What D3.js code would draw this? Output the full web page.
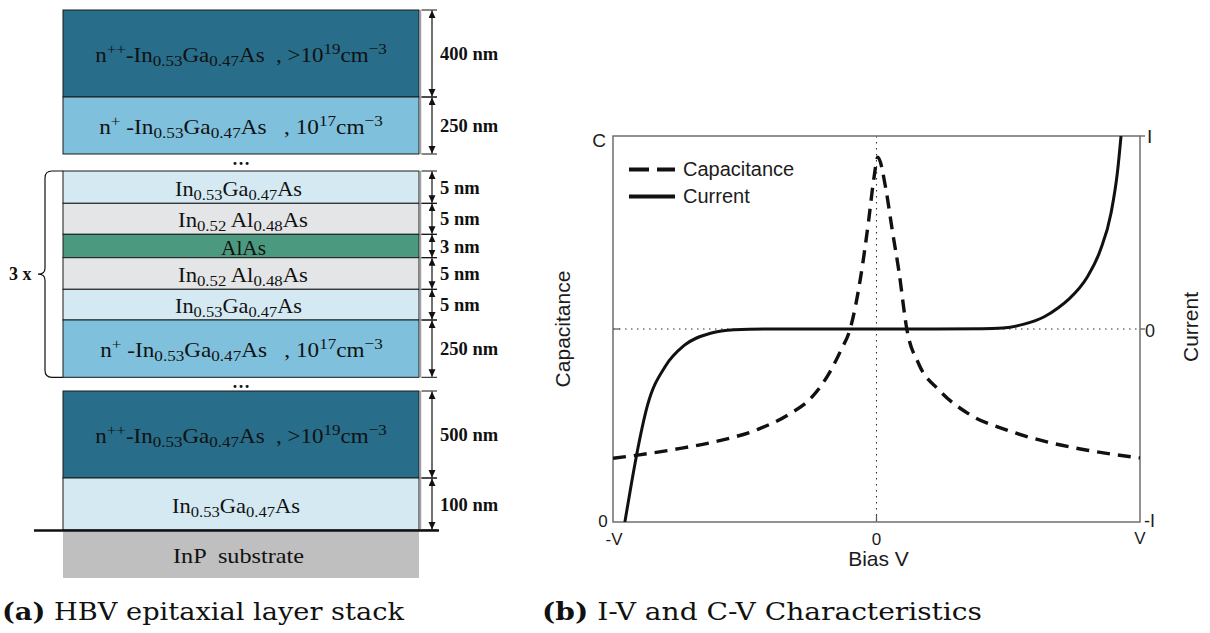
<!DOCTYPE html>
<html><head><meta charset="utf-8">
<script src="https://cdn.jsdelivr.net/npm/d3@7"></script>
<style>body{margin:0;background:#fff}svg{display:block}</style>
</head><body>
<svg id="c" width="1210" height="633"></svg>
<script>
// ---------------- DATA ----------------
// (a) layer stack, top to bottom
const layerMaterials = ["npp","np","ingaas","inalas","alas","inalas","ingaas","np","npp","ingaas","substrate"];
const NPP = [["n"],["++","sup"],["-In"],["0.53","sub"],["Ga"],["0.47","sub"],["As  , >10"],["19","sup"],["cm"],["\u22123","sup"]];
const NP  = [["n"],["+","sup"],[" -In"],["0.53","sub"],["Ga"],["0.47","sub"],["As   , 10"],["17","sup"],["cm"],["\u22123","sup"]];
const INGAAS = [["In"],["0.53","sub"],["Ga"],["0.47","sub"],["As"]];
const INALAS = [["In"],["0.52","sub"],[" Al"],["0.48","sub"],["As"]];
const layerLabels = [NPP, NP, INGAAS, INALAS, [["AlAs"]], INALAS, INGAAS, NP, NPP, INGAAS, [["InP  substrate"]]];
const layerThickness = ["400 nm","250 nm","5 nm","5 nm","3 nm","5 nm","5 nm","250 nm","500 nm","100 nm",""];
const repeatLabel = "3 x";
const gapLabel = "\u2026";

// (b) I-V and C-V characteristics (normalised: bias -1..1, C 0..1, I -1..1)
const biasCap = [-1,-0.9,-0.75,-0.6,-0.45,-0.33,-0.25,-0.18,-0.135,-0.1,-0.06,-0.03,-0.01,0.005,0.035,0.06,0.085,0.115,0.16,0.24,0.35,0.5,0.65,0.8,1.0];
const capacitance = [0.165,0.174,0.19,0.21,0.24,0.28,0.32,0.385,0.445,0.5,0.635,0.78,0.89,0.945,0.865,0.755,0.65,0.5,0.41,0.34,0.28,0.237,0.207,0.186,0.166];
const biasCur = [-0.955,-0.93,-0.91,-0.87,-0.8,-0.73,-0.63,-0.54,-0.4,0,0.4,0.48,0.56,0.635,0.69,0.73,0.8,0.85,0.89,0.915,0.928];
const current = [-1,-0.8,-0.65,-0.4,-0.19,-0.085,-0.022,-0.004,0,0,0.001,0.005,0.025,0.062,0.11,0.155,0.27,0.41,0.6,0.82,1.0];
const xTickLabels = ["-V","0","V"];
const leftTickLabels = ["0","C"];
const rightTickLabels = ["-I","0","I"];
const legendLabels = ["Capacitance","Current"];
const xTitle = "Bias V", leftTitle = "Capacitance", rightTitle = "Current";
const captionTags = ["(a)","(b)"];
const captionTexts = [" HBV epitaxial layer stack"," I-V and C-V Characteristics"];

// ---------------- LAYOUT / STYLE ----------------
const materialFill = {npp:"#286d89", np:"#7fc0dc", ingaas:"#d4e9f2", inalas:"#e3e5e6", alas:"#4b9a80", substrate:"#bfbfbf"};
const layerTops =    [10,97,171,203.3,234.3,257.7,289.3,320,391,478,530.5];
const layerBottoms = [97,154,203.3,234.3,257.7,289.3,320,377.3,478,530,578];
const blocks = [[10,154],[171,377.3],[391,530]];
const labelWidths = [292,284,127,130,45,130,127,283,292,128,131];
const labelCenters = [241,241,238.5,243,243.5,243,238.5,241.5,241,236,238.5];
const SX0 = 63, SX1 = 419, SHX = 420.5, TICKX = 437, ARX = 432, THX = 440;

const svg = d3.select("#c");
const serif = "Liberation Serif", sans = "Liberation Sans";

// ---------------- (a) ----------------
const defs = svg.append("defs");
defs.append("marker").attr("id","ah").attr("markerUnits","userSpaceOnUse")
  .attr("markerWidth",8).attr("markerHeight",8).attr("refX",7.5).attr("refY",3.5)
  .attr("orient","auto-start-reverse")
  .append("path").attr("d","M0,0 L7.5,3.5 L0,7 Z").attr("fill","#111");

const gA = svg.append("g");
layerMaterials.forEach((m,i)=>{
  const r = gA.append("rect").attr("x",SX0).attr("y",layerTops[i]).attr("width",SX1-SX0)
    .attr("height",layerBottoms[i]-layerTops[i]).attr("fill",materialFill[m]);
  if (m!=="substrate") r.attr("stroke","#1a1a1a").attr("stroke-width",1);
});
blocks.forEach(b=>{
  gA.append("line").attr("x1",SHX).attr("x2",SHX).attr("y1",b[0]).attr("y2",b[1])
    .attr("stroke","#a0a0a0").attr("stroke-width",1.5);
});
layerMaterials.forEach((m,i)=>{
  if (m==="substrate") return;
  [layerTops[i],layerBottoms[i]].forEach(y=>{
    gA.append("line").attr("x1",SHX+1).attr("x2",TICKX).attr("y1",y).attr("y2",y)
      .attr("stroke","#111").attr("stroke-width",1);
  });
  gA.append("line").attr("x1",ARX).attr("x2",ARX).attr("y1",layerTops[i]+0.5).attr("y2",layerBottoms[i]-0.5)
    .attr("stroke","#111").attr("stroke-width",1.2)
    .attr("marker-start","url(#ah)").attr("marker-end","url(#ah)");
  gA.append("text").attr("x",THX).attr("y",(layerTops[i]+layerBottoms[i])/2+6.5)
    .attr("font-family",serif).attr("font-weight","bold").attr("font-size",18.5).attr("fill","#111")
    .text(layerThickness[i]);
});
gA.append("line").attr("x1",34).attr("x2",439).attr("y1",530.5).attr("y2",530.5)
  .attr("stroke","#111").attr("stroke-width",2.5);

function richText(g, parts, base, small){
  const t = g.append("text").attr("font-family",serif).attr("font-size",base)
    .attr("fill","#111").style("white-space","pre").attr("text-anchor","middle");
  let shift = 0;
  parts.forEach(([s,type])=>{
    const target = type==="sub"?4:(type==="sup"?-8:0);
    const ts = t.append("tspan").attr("dy",target-shift).text(s);
    if (type) ts.attr("font-size",small);
    shift = target;
  });
  return t;
}
layerLabels.forEach((parts,i)=>{
  const t = richText(gA, parts, 21, 15.5);
  const w = t.node().getBBox().width;
  const cy = (layerTops[i]+layerBottoms[i])/2 + 8.5;
  t.attr("transform",`translate(${labelCenters[i]},${cy}) scale(${labelWidths[i]/w},1)`);
});
[165,388].forEach(y=>{
  gA.append("text").attr("x",241).attr("y",y).attr("text-anchor","middle")
    .attr("font-family",serif).attr("font-weight","bold").attr("font-size",18).attr("fill","#111").text(gapLabel);
});
const bt = blocks[1][0], bb = blocks[1][1], bm = (bt+bb)/2;
gA.append("path").attr("fill","none").attr("stroke","#111").attr("stroke-width",1.2)
  .attr("d",`M${SX0},${bt} L52,${bt} Q45,${bt} 45,${bt+7} L45,${bm-6} Q45,${bm} 38,${bm} Q45,${bm} 45,${bm+6} L45,${bb-7} Q45,${bb} 52,${bb} L${SX0},${bb}`);
gA.append("text").attr("x",9).attr("y",bm+6).attr("font-family",serif).attr("font-weight","bold")
  .attr("font-size",18).attr("fill","#111").text(repeatLabel);

// ---------------- (b) ----------------
const x = d3.scaleLinear().domain([-1,1]).range([613,1140]);
const yC = d3.scaleLinear().domain([0,1]).range([522,136]);
const yI = d3.scaleLinear().domain([-1,1]).range([522,136]);
const gB = svg.append("g");
const ink = "#1c1c1c";

gB.append("line").attr("x1",x(-1)).attr("x2",x(1)).attr("y1",yI(0)).attr("y2",yI(0))
  .attr("stroke","#333").attr("stroke-width",1.1).attr("stroke-dasharray","1.5,4.5");
gB.append("line").attr("x1",x(0)).attr("x2",x(0)).attr("y1",yC(1)).attr("y2",yC(0))
  .attr("stroke","#333").attr("stroke-width",1.1).attr("stroke-dasharray","1.5,4.5");
gB.append("line").attr("x1",x(0)).attr("x2",x(0)).attr("y1",yC(0)-7).attr("y2",yC(0)).attr("stroke","#555").attr("stroke-width",1.2);
gB.append("line").attr("x1",x(-1)).attr("x2",x(-1)+7).attr("y1",yI(0)).attr("y2",yI(0)).attr("stroke","#555").attr("stroke-width",1.2);
gB.append("line").attr("x1",x(1)).attr("x2",x(1)+5).attr("y1",yI(0)).attr("y2",yI(0)).attr("stroke","#555").attr("stroke-width",1.2);
gB.append("line").attr("x1",x(1)).attr("x2",x(1)+5).attr("y1",yI(1)).attr("y2",yI(1)).attr("stroke","#555").attr("stroke-width",1.2);

gB.append("rect").attr("x",x(-1)).attr("y",yC(1)).attr("width",x(1)-x(-1)).attr("height",yC(0)-yC(1))
  .attr("fill","none").attr("stroke","#6e6e6e").attr("stroke-width",1.5);

defs.append("clipPath").attr("id","clp").append("rect")
  .attr("x",x(-1)).attr("y",yC(1)).attr("width",x(1)-x(-1)).attr("height",yC(0)-yC(1));
const capLine = d3.line().x(d=>x(d[0])).y(d=>yC(d[1])).curve(d3.curveMonotoneX);
const curLine = d3.line().x(d=>x(d[0])).y(d=>yI(d[1])).curve(d3.curveMonotoneX);
gB.append("path").attr("clip-path","url(#clp)").attr("d",curLine(d3.zip(biasCur,current)))
  .attr("fill","none").attr("stroke","#111").attr("stroke-width",3);
gB.append("path").attr("clip-path","url(#clp)").attr("d",capLine(d3.zip(biasCap,capacitance)))
  .attr("fill","none").attr("stroke","#111").attr("stroke-width",3.4).attr("stroke-dasharray","13,8");

const lg = gB.append("g");
lg.append("line").attr("x1",629).attr("x2",675).attr("y1",169.5).attr("y2",169.5)
  .attr("stroke","#111").attr("stroke-width",4).attr("stroke-dasharray","20,8");
lg.append("line").attr("x1",629).attr("x2",675).attr("y1",196.5).attr("y2",196.5)
  .attr("stroke","#111").attr("stroke-width",4);
lg.selectAll("text.lg").data(legendLabels).join("text").attr("class","lg")
  .attr("x",683).attr("y",(d,i)=>176+i*27).attr("font-family",sans).attr("font-size",20).attr("fill",ink).text(d=>d);

function lab(txt,xx,yy,anchor,size){
  return gB.append("text").attr("x",xx).attr("y",yy).attr("text-anchor",anchor)
    .attr("font-family",sans).attr("font-size",size).attr("fill",ink).text(txt);
}
lab(xTickLabels[0], x(-1)+1, 545, "middle", 17);
lab(xTickLabels[1], x(0), 545, "middle", 17);
lab(xTickLabels[2], x(1), 544, "middle", 17);
lab(leftTickLabels[0], x(-1)-10, yC(0)+5, "middle", 17);
lab(leftTickLabels[1], x(-1)-14, yC(1)+11, "middle", 19);
lab(rightTickLabels[0], x(1)+4, yI(-1)+5, "start", 18);
lab(rightTickLabels[1], x(1)+5, yI(0)+8, "start", 18);
lab(rightTickLabels[2], x(1)+7, yI(1)+7, "start", 19);
lab(xTitle, x(0)+2, 566, "middle", 21);
gB.append("text").attr("transform",`translate(570,${yI(0)}) rotate(-90)`).attr("text-anchor","middle")
  .attr("font-family",sans).attr("font-size",21).attr("fill",ink).text(leftTitle);
gB.append("text").attr("transform",`translate(1198,${yI(0)-2}) rotate(-90)`).attr("text-anchor","middle")
  .attr("font-family",sans).attr("font-size",21).attr("fill",ink).text(rightTitle);

// ---------------- captions ----------------
const capX = [2,542], capW = [403,440];
captionTags.forEach((tag,i)=>{
  const t = svg.append("text").attr("font-family","DejaVu Serif").attr("font-size",25).attr("fill","#111")
    .style("white-space","pre");
  t.append("tspan").attr("font-weight","bold").text(tag);
  t.append("tspan").text(captionTexts[i]);
  const w = t.node().getBBox().width;
  t.attr("transform",`translate(${capX[i]},620) scale(${capW[i]/w},1)`);
});
</script>
</body></html>
